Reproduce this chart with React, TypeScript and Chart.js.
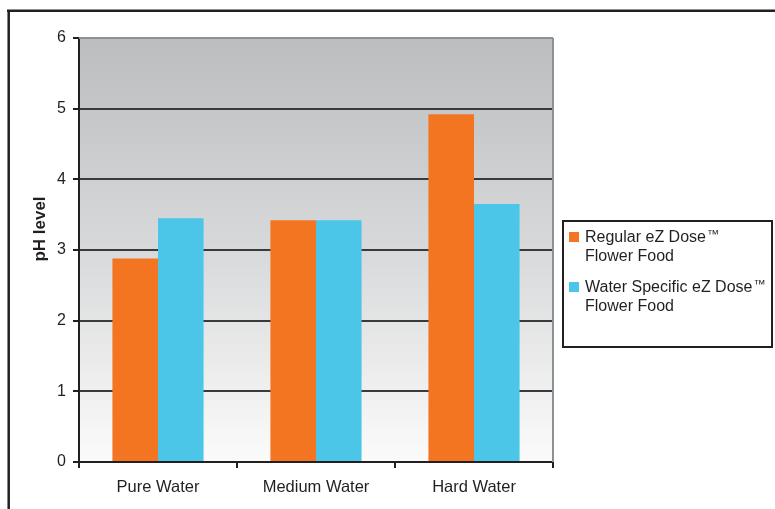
import React, { useEffect, useRef } from "react";
import { Chart, registerables } from "chart.js";

Chart.register(...registerables);

const categories = ["Pure Water", "Medium Water", "Hard Water"];
const regularValues = [2.88, 3.42, 4.92];
const specificValues = [3.45, 3.42, 3.65];
const seriesNames = ["Regular eZ Dose\u2122|Flower Food", "Water Specific eZ Dose\u2122|Flower Food"];
const seriesColors = ["#f47521", "#4cc6e8"];
const yTicks = [0, 1, 2, 3, 4, 5, 6];
const yTitle = "pH level";

const FONT = "'Liberation Sans', Arial, sans-serif";
const DARK = "#231f20";

const decorPlugin = {
  id: "decor",
  beforeDraw(chart: any) {
    const { ctx, chartArea } = chart;
    const { left, right, top, bottom } = chartArea;
    ctx.save();
    const g = ctx.createLinearGradient(0, top, 0, bottom);
    g.addColorStop(0, "#bcbdbf");
    g.addColorStop(0.5, "#d8d9da");
    g.addColorStop(1, "#fbfbfb");
    ctx.fillStyle = g;
    ctx.fillRect(left, top, right - left, bottom - top);
    ctx.restore();
  },
  afterDraw(chart: any) {
    const { ctx, chartArea } = chart;
    const { left, right, top, bottom } = chartArea;
    ctx.save();
    ctx.strokeStyle = "#8a9197";
    ctx.lineWidth = 2;
    ctx.beginPath();
    ctx.moveTo(left, top);
    ctx.lineTo(right, top);
    ctx.moveTo(right, top);
    ctx.lineTo(right, bottom);
    ctx.stroke();
    ctx.strokeStyle = DARK;
    ctx.lineWidth = 2.5;
    ctx.beginPath();
    ctx.moveTo(7, 10.7);
    ctx.lineTo(775, 10.7);
    ctx.moveTo(8.7, 10);
    ctx.lineTo(8.7, 509);
    ctx.stroke();
    ctx.fillStyle = DARK;
    ctx.font = `bold 17px ${FONT}`;
    ctx.textAlign = "center";
    ctx.textBaseline = "middle";
    ctx.translate(40, 229);
    ctx.rotate(-Math.PI / 2);
    ctx.fillText(yTitle, 0, 0);
    ctx.restore();
    ctx.save();
    ctx.strokeStyle = DARK;
    ctx.lineWidth = 2;
    ctx.strokeRect(563, 221, 209, 126);
    ctx.textAlign = "left";
    ctx.textBaseline = "alphabetic";
    chart.data.datasets.forEach((ds: any, i: number) => {
      const y0 = 242 + i * 50;
      ctx.fillStyle = ds.backgroundColor;
      ctx.fillRect(569, y0 - 10, 10, 10);
      ctx.fillStyle = DARK;
      const lines = String(ds.label).split("|");
      lines.forEach((ln: string, j: number) => {
        const y = y0 + j * 19;
        const tm = ln.endsWith("\u2122");
        const main = tm ? ln.slice(0, -1) : ln;
        ctx.font = `16px ${FONT}`;
        ctx.fillText(main, 585, y);
        if (tm) {
          const w = ctx.measureText(main).width;
          ctx.font = `12px ${FONT}`;
          ctx.fillText("\u2122", 585 + w + 1, y - 4);
        }
      });
    });
    ctx.restore();
  },
};

export default function App() {
  const ref = useRef<HTMLCanvasElement>(null);
  useEffect(() => {
    document.body.style.margin = "0";
    const canvas = ref.current!;
    const chart = new Chart(canvas, {
      type: "bar",
      data: {
        labels: categories,
        datasets: [
          { label: seriesNames[0], data: regularValues, backgroundColor: seriesColors[0] },
          { label: seriesNames[1], data: specificValues, backgroundColor: seriesColors[1] },
        ],
      },
      options: {
        responsive: false,
        animation: false,
        devicePixelRatio: 1,
        layout: { padding: { left: 19, right: 222, top: 38, bottom: 7 } },
        datasets: { bar: { categoryPercentage: 0.577, barPercentage: 1 } } as any,
        plugins: { legend: { display: false }, tooltip: { enabled: false } },
        scales: {
          x: {
            offset: true,
            grid: {
              offset: true,
              drawOnChartArea: false,
              drawTicks: true,
              tickLength: 6,
              color: DARK,
              lineWidth: 2,
            },
            border: { display: true, color: DARK, width: 2 },
            ticks: { color: DARK, font: { family: FONT, size: 16.5 }, padding: 10 },
            afterFit(scale: any) {
              scale.height = 40;
            },
          },
          y: {
            min: 0,
            max: 6,
            afterBuildTicks(scale: any) {
              scale.ticks = yTicks.map((v) => ({ value: v }));
            },
            grid: {
              drawTicks: true,
              tickLength: 6,
              lineWidth: 2,
              color: (c: any) => (c.tick && c.tick.value === 6 ? "#8a9197" : "#3a3a3c"),
              tickColor: DARK,
            } as any,
            border: { display: true, color: DARK, width: 2 },
            ticks: { color: DARK, font: { family: FONT, size: 16 }, padding: 7 },
            afterFit(scale: any) {
              scale.width = 60;
            },
          },
        },
      },
      plugins: [decorPlugin],
    });
    return () => chart.destroy();
  }, []);
  return (
    <div style={{ width: 775, height: 509, background: "#fff" }}>
      <canvas ref={ref} width={775} height={509} style={{ display: "block" }} />
    </div>
  );
}
